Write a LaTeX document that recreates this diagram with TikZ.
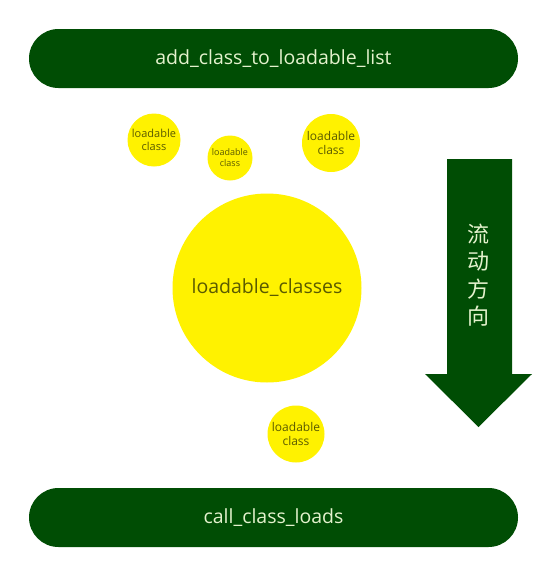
\documentclass[tikz,border=0pt]{standalone}
\usepackage{fontspec}
\setmainfont{Open Sans}
\newfontfamily\cjk{Noto Sans CJK SC}
\definecolor{barGreen}{RGB}{0,77,4}
\definecolor{barText}{RGB}{228,242,205}
\definecolor{ballYellow}{RGB}{255,242,0}
\definecolor{ballText}{RGB}{90,90,0}
\begin{document}
\begin{tikzpicture}[x=1pt,y=-1pt,
  bar/.style={rectangle, rounded corners=29.5pt, fill=barGreen, text=barText,
    minimum width=489pt, minimum height=59pt, inner sep=0pt, font=\fontsize{19.5}{23}\selectfont},
  ball/.style={circle, fill=ballYellow, text=ballText, inner sep=0pt, align=center}]
\useasboundingbox (0,0) rectangle (546,571);
\node[bar] (top) at (273.5,58.5) {add\_class\_to\_loadable\_list};
\node[bar] (bottom) at (273.5,517.5) {call\_class\_loads};
\node[ball, minimum size=53pt, font=\fontsize{11}{13}\selectfont] (c1) at (154,140) {loadable\\class};
\node[ball, minimum size=45pt, font=\fontsize{9}{11}\selectfont] (c2) at (230,158) {loadable\\class};
\node[ball, minimum size=58pt, font=\fontsize{12}{14}\selectfont] (c3) at (331,143) {loadable\\class};
\node[ball, minimum size=189pt, font=\fontsize{19.5}{23}\selectfont] (big) at (267,288) {loadable\_classes};
\node[ball, minimum size=57pt, font=\fontsize{12}{14}\selectfont] (c4) at (296,434) {loadable\\class};
\fill[barGreen] (447,159) -- (512,159) -- (512,374) -- (532,374) -- (478.5,427) -- (425,374) -- (447,374) -- cycle;
\node[text=barText, align=center, font=\cjk\fontsize{22}{27.5}\selectfont, inner sep=0pt] (flow) at (478,275) {流\\动\\方\\向};
\end{tikzpicture}
\end{document}
